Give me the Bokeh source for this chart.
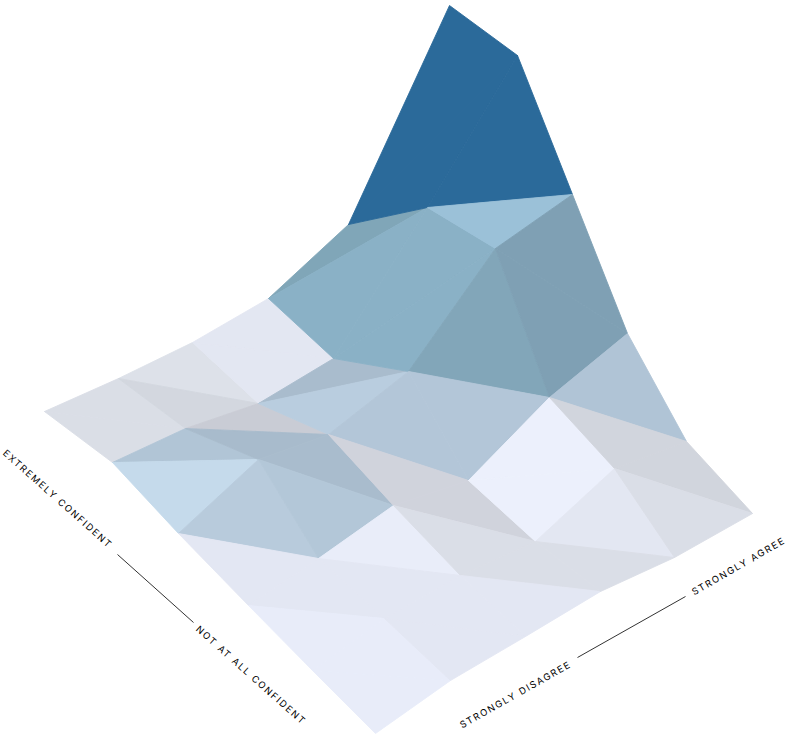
from bokeh.plotting import figure
from bokeh.models import ColumnDataSource, Range1d
from bokeh.core.properties import value
from bokeh.embed import file_html
from bokeh.resources import INLINE
import math

# Surface mesh: 6 x 6 vertices, one list per row
row_x = [
    [44, 118, 192, 268, 348, 449],
    [112, 185, 258, 333, 427, 517],
    [178, 258, 328, 408, 495, 572],
    [248, 318, 393, 468, 549, 627],
    [312, 384, 460, 535, 614, 686],
    [375, 450, 525, 600, 674, 752],
]
row_y = [
    [411, 378, 342, 298, 224, 5],
    [462, 428, 403, 358, 207, 55],
    [533, 459, 434, 371, 248, 194],
    [605, 558, 505, 480, 397, 333],
    [670, 618, 575, 541, 468, 441],
    [733, 680, 636, 591, 557, 513],
]

# Colours of each cell's two triangles: (upper, lower), split along its
# top-left to bottom-right diagonal
cell_colors = [
    [("#dadee6", "#dadee6"), ("#dde1e9", "#d3d7df"), ("#e3e7f2", "#e3e7f2"), ("#80a6b8", "#8ab1c6"), ("#2b6a9a", "#2b6a9a")],
    [("#b1c5d6", "#c5daeb"), ("#c9ccd5", "#a8bbcc"), ("#a9bccd", "#b9cddf"), ("#8ab1c6", "#8ab1c6"), ("#2b6a9a", "#9bc1d8")],
    [("#b8cbdc", "#e3e7f3"), ("#a9bccd", "#b3c7d8"), ("#b3c6d8", "#d0d3dc"), ("#82a6b9", "#b3c6d8"), ("#7fa0b4", "#7fa0b4")],
    [("#e3e7f3", "#e8ecf9"), ("#e9edf9", "#e3e7f3"), ("#d0d3dc", "#dadee7"), ("#ecf0fc", "#ecf0fc"), ("#b0c4d6", "#d1d5dd")],
    [("#e8ecf9", "#e8ecf9"), ("#e3e7f3", "#e3e7f3"), ("#dadee7", "#e3e7f3"), ("#e3e7f2", "#dadee7"), ("#d1d5dd", "#dadee7")],
]

axis_labels = ["EXTREMELY CONFIDENT", "NOT AT ALL CONFIDENT", "STRONGLY DISAGREE", "STRONGLY AGREE"]
label_x = [4, 197, 460, 692]
label_y = [451, 627, 725, 592]
label_deg = [-41.6, -41.6, 29.5, 30]
rule_x = [[117, 193], [577, 685]]
rule_y = [[554, 622], [657, 596]]

xs, ys, cols = [], [], []
for r, row in enumerate(cell_colors):
    for c, (upper, lower) in enumerate(row):
        a = (row_x[r][c], row_y[r][c])
        b = (row_x[r][c + 1], row_y[r][c + 1])
        d = (row_x[r + 1][c + 1], row_y[r + 1][c + 1])
        e = (row_x[r + 1][c], row_y[r + 1][c])
        for tri, col in (((a, b, d), upper), ((a, d, e), lower)):
            xs.append([pt[0] for pt in tri])
            ys.append([pt[1] for pt in tri])
            cols.append(col)

p = figure(width=792, height=735, output_backend="svg", toolbar_location=None,
           x_range=Range1d(0, 792), y_range=Range1d(735, 0), min_border=0,
           styles={"letter-spacing": "1.6px"})
p.axis.visible = False
p.grid.visible = False
p.outline_line_color = None

p.patches("xs", "ys", source=ColumnDataSource(dict(xs=xs, ys=ys, c=cols)),
          fill_color="c", line_color="c", line_width=0.9)
p.multi_line(rule_x, rule_y, line_color="#333333", line_width=1)
p.text(label_x, label_y, text=axis_labels, angle=[math.radians(d) for d in label_deg],
       text_font=value("Inter"), text_font_size="9.4px", text_color="#000000",
       text_align="left", text_baseline="middle")

open("out.html", "w").write(file_html(p, INLINE))
